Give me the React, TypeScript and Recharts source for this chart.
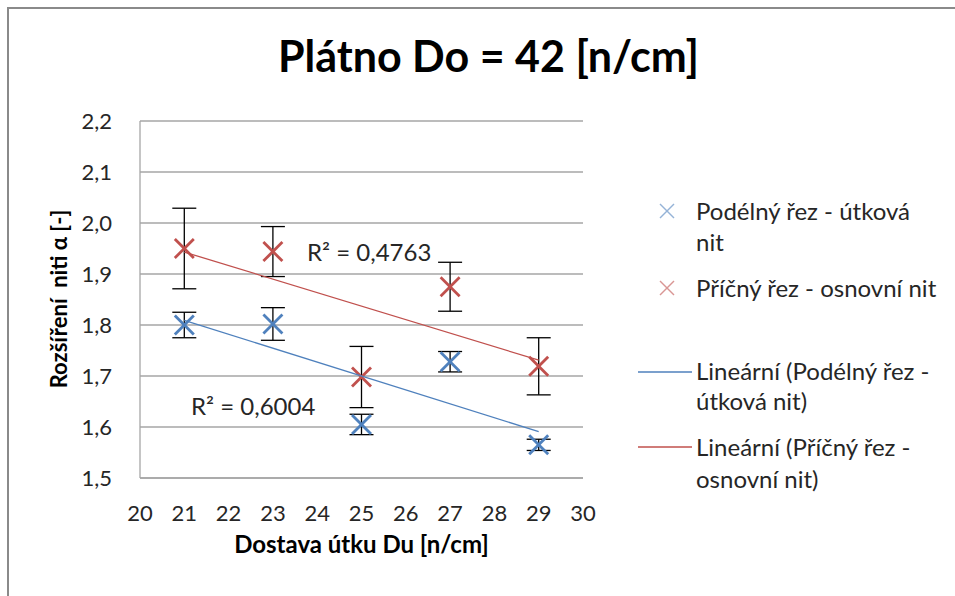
import { ScatterChart, Scatter, XAxis, YAxis, CartesianGrid, ErrorBar } from 'recharts';

const xValues = [21, 23, 25, 27, 29];
const podelnyValues = [1.8, 1.802, 1.605, 1.728, 1.565];
const podelnyErrors = [0.025, 0.032, 0.02, 0.02, 0.011];
const pricnyValues = [1.95, 1.944, 1.698, 1.875, 1.719];
const pricnyErrors = [0.079, 0.049, 0.06, 0.048, 0.056];

// trendline end points (x = 21 and x = 29)
const trendX = [21, 29];
const podelnyTrend = [1.809, 1.591];
const pricnyTrend = [1.943, 1.731];

const xTicks = [20, 21, 22, 23, 24, 25, 26, 27, 28, 29, 30];
const yTicks = [1.5, 1.6, 1.7, 1.8, 1.9, 2.0, 2.1, 2.2];

const BLUE = '#4F81BD';
const RED = '#C0504D';
const FONT = 'Lato, "Open Sans", sans-serif';

const podelnyData = xValues.map((x, i) => ({ x, y: podelnyValues[i], err: podelnyErrors[i] }));
const pricnyData = xValues.map((x, i) => ({ x, y: pricnyValues[i], err: pricnyErrors[i] }));
const podelnyTrendData = trendX.map((x, i) => ({ x, y: podelnyTrend[i] }));
const pricnyTrendData = trendX.map((x, i) => ({ x, y: pricnyTrend[i] }));

const cross = (color: string) => (props: any) => {
  const { cx, cy } = props;
  const s = 9.5;
  return (
    <g>
      <line x1={cx - s} y1={cy - s} x2={cx + s} y2={cy + s} stroke={color} strokeWidth={2.8} />
      <line x1={cx - s} y1={cy + s} x2={cx + s} y2={cy - s} stroke={color} strokeWidth={2.8} />
    </g>
  );
};

const noShape = () => <g />;

function LegendCross({ color }: { color: string }) {
  return (
    <svg width={16} height={16} style={{ display: 'block' }}>
      <line x1={1} y1={1} x2={15} y2={15} stroke={color} strokeWidth={1.4} />
      <line x1={1} y1={15} x2={15} y2={1} stroke={color} strokeWidth={1.4} />
    </svg>
  );
}

function LegendLine({ color }: { color: string }) {
  return (
    <svg width={54} height={4} style={{ display: 'block' }}>
      <line x1={0} y1={2} x2={54} y2={2} stroke={color} strokeWidth={1.5} />
    </svg>
  );
}

const textStyle: React.CSSProperties = {
  position: 'absolute',
  fontFamily: FONT,
  color: '#262626',
  whiteSpace: 'nowrap',
};

export default function App() {
  const fmt = (v: number) => v.toFixed(1).replace('.', ',');
  return (
    <div style={{ position: 'absolute', left: 0, top: 0, width: 955, height: 596, background: '#fff', overflow: 'hidden' }}>
      <div
        style={{
          position: 'absolute',
          left: 7,
          top: 7,
          width: 1000,
          height: 700,
          borderLeft: '2px solid #8a8a8a',
          borderTop: '2px solid #8a8a8a',
        }}
      />
      <ScatterChart width={955} height={596} margin={{ top: 121, right: 372, bottom: 78, left: 0 }}>
        <CartesianGrid vertical={false} stroke="#a6a6a6" strokeWidth={1.3} />
        <XAxis
          type="number"
          dataKey="x"
          domain={[20, 30]}
          ticks={xTicks}
          interval={0}
          tickLine={false}
          axisLine={{ stroke: '#a6a6a6', strokeWidth: 1.3 }}
          tickMargin={21}
          height={40}
          tick={{ fill: '#262626', fontSize: 22, fontFamily: FONT }}
        />
        <YAxis
          type="number"
          dataKey="y"
          domain={[1.5, 2.2]}
          ticks={yTicks}
          interval={0}
          tickLine={false}
          axisLine={{ stroke: '#a6a6a6', strokeWidth: 1.3 }}
          tickFormatter={fmt}
          tickMargin={22}
          width={140}
          tick={{ fill: '#262626', fontSize: 22, fontFamily: FONT }}
        />
        <Scatter data={pricnyData} shape={cross(RED)} isAnimationActive={false}>
          <ErrorBar dataKey="err" direction="y" width={12} stroke="#000" strokeWidth={1.3} />
        </Scatter>
        <Scatter data={podelnyData} shape={cross(BLUE)} isAnimationActive={false}>
          <ErrorBar dataKey="err" direction="y" width={12} stroke="#000" strokeWidth={1.3} />
        </Scatter>
        <Scatter
          data={podelnyTrendData}
          shape={noShape}
          line={{ stroke: BLUE, strokeWidth: 1.3 }}
          isAnimationActive={false}
        />
        <Scatter
          data={pricnyTrendData}
          shape={noShape}
          line={{ stroke: RED, strokeWidth: 1.3 }}
          isAnimationActive={false}
        />
      </ScatterChart>

      <div style={{ ...textStyle, left: 0, width: 977, top: 30, textAlign: 'center', fontSize: 43, fontWeight: 700, color: '#000' }}>
        Plátno Do = 42 [n/cm]
      </div>

      <div style={{ ...textStyle, left: 191, top: 391, fontSize: 24 }}>R² = 0,6004</div>
      <div style={{ ...textStyle, left: 307, top: 237, fontSize: 24 }}>R² = 0,4763</div>

      <div style={{ ...textStyle, left: 140, width: 443, top: 529, textAlign: 'center', fontSize: 24, fontWeight: 700, color: '#000' }}>
        Dostava útku Du [n/cm]
      </div>
      <div
        style={{
          ...textStyle,
          left: 58,
          top: 299,
          transform: 'translate(-50%, -50%) rotate(-90deg)',
          fontSize: 22,
          fontWeight: 700,
          color: '#000',
          whiteSpace: 'pre',
        }}
      >
        {'Rozšíření  niti α [-]'}
      </div>

      {/* legend */}
      <div style={{ position: 'absolute', left: 659, top: 203 }}>
        <LegendCross color="#95B3D7" />
      </div>
      <div style={{ ...textStyle, left: 696, top: 195, fontSize: 24, lineHeight: '31px' }}>
        Podélný řez - útková
        <br />
        nit
      </div>
      <div style={{ position: 'absolute', left: 659, top: 280 }}>
        <LegendCross color="#D99694" />
      </div>
      <div style={{ ...textStyle, left: 696, top: 272, fontSize: 24, lineHeight: '31px' }}>Příčný řez - osnovní nit</div>

      <div style={{ position: 'absolute', left: 638, top: 370 }}>
        <LegendLine color={BLUE} />
      </div>
      <div style={{ ...textStyle, left: 696, top: 356, fontSize: 24, lineHeight: '30px' }}>
        Lineární (Podélný řez -
        <br />
        útková nit)
      </div>
      <div style={{ position: 'absolute', left: 638, top: 445 }}>
        <LegendLine color={RED} />
      </div>
      <div style={{ ...textStyle, left: 696, top: 431, fontSize: 24, lineHeight: '32px' }}>
        Lineární (Příčný řez -
        <br />
        osnovní nit)
      </div>
    </div>
  );
}
